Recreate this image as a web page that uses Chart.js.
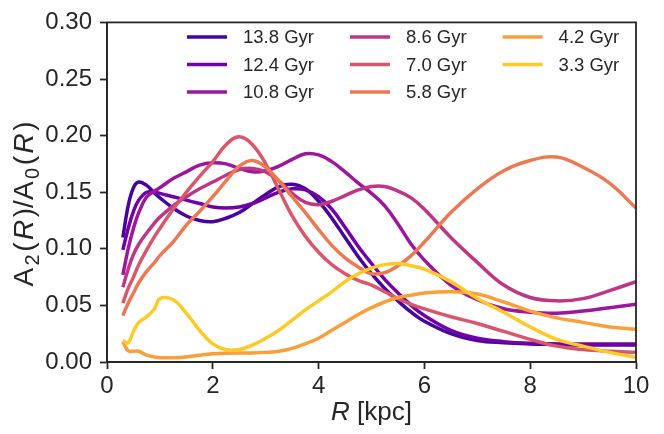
<!DOCTYPE html>
<html><head><meta charset="utf-8">
<script src="https://cdn.jsdelivr.net/npm/chart.js@4.4.0/dist/chart.umd.min.js"></script>
<style>html,body{margin:0;padding:0;background:#fff;}#wrap{width:664px;height:434px;}</style>
</head><body><div id="wrap"><canvas id="c" width="664" height="434"></canvas></div>
<script>
// ---- data ----
const R = [0.3,0.4,0.5,0.6,0.75,0.9,1.0,1.25,1.5,1.75,2.0,2.25,2.5,2.75,3.0,3.25,3.5,3.75,4.0,4.25,4.5,4.75,5.0,5.25,5.5,5.75,6.0,6.5,7.0,7.5,8.0,8.5,9.0,9.5,10];
const seriesLabels = ['13.8 Gyr','12.4 Gyr','10.8 Gyr','8.6 Gyr','7.0 Gyr','5.8 Gyr','4.2 Gyr','3.3 Gyr'];
const seriesColors = ['#46039f','#7201a8','#9c179e','#bd3786','#d8576b','#ed7953','#fb9f3a','#fdca26'];
const a138 = [0.110,0.138,0.154,0.159,0.156,0.149,0.145,0.136,0.129,0.125,0.124,0.127,0.132,0.140,0.148,0.155,0.157,0.153,0.142,0.127,0.110,0.093,0.078,0.065,0.054,0.044,0.036,0.025,0.019,0.017,0.016,0.0155,0.015,0.015,0.015];
const a124 = [0.099,0.118,0.133,0.143,0.150,0.150,0.149,0.146,0.143,0.140,0.137,0.136,0.137,0.140,0.145,0.150,0.153,0.152,0.146,0.135,0.119,0.102,0.087,0.073,0.061,0.050,0.041,0.028,0.021,0.018,0.0165,0.016,0.016,0.016,0.016];
const a108 = [0.077,0.100,0.118,0.132,0.146,0.151,0.154,0.162,0.168,0.174,0.176,0.175,0.171,0.168,0.169,0.173,0.179,0.184,0.183,0.177,0.168,0.158,0.149,0.138,0.122,0.104,0.090,0.068,0.055,0.047,0.044,0.043,0.045,0.048,0.051];
const a86  = [0.066,0.082,0.095,0.104,0.114,0.123,0.128,0.138,0.146,0.153,0.159,0.165,0.170,0.171,0.168,0.160,0.149,0.141,0.139,0.142,0.147,0.152,0.155,0.155,0.151,0.145,0.135,0.110,0.088,0.068,0.057,0.054,0.056,0.063,0.071];
const a70  = [0.052,0.065,0.075,0.086,0.099,0.111,0.118,0.135,0.150,0.164,0.177,0.192,0.199,0.192,0.175,0.152,0.129,0.111,0.097,0.086,0.078,0.072,0.068,0.062,0.056,0.051,0.047,0.040,0.034,0.027,0.020,0.014,0.011,0.0095,0.0086];
const a58  = [0.041,0.052,0.061,0.070,0.080,0.088,0.094,0.106,0.121,0.133,0.146,0.160,0.173,0.178,0.172,0.160,0.146,0.132,0.117,0.103,0.092,0.084,0.078,0.079,0.085,0.094,0.106,0.132,0.153,0.169,0.178,0.181,0.172,0.158,0.136];
const a42  = [0.018,0.010,0.0095,0.0095,0.006,0.0045,0.0038,0.0038,0.0045,0.006,0.0072,0.0078,0.008,0.008,0.0085,0.0095,0.012,0.016,0.021,0.028,0.035,0.042,0.048,0.053,0.057,0.059,0.061,0.062,0.060,0.053,0.045,0.039,0.035,0.031,0.029];
const a33  = [0.019,0.017,0.027,0.035,0.040,0.047,0.056,0.055,0.043,0.028,0.016,0.011,0.011,0.015,0.021,0.028,0.037,0.046,0.054,0.062,0.071,0.078,0.083,0.086,0.087,0.085,0.082,0.071,0.056,0.044,0.031,0.020,0.014,0.0085,0.004];
const seriesValues = [a138,a124,a108,a86,a70,a58,a42,a33];
const xTicks = [0,2,4,6,8,10];
const yTicks = [0,0.05,0.10,0.15,0.20,0.25,0.30];

const FAM = '"Liberation Sans", Arial, sans-serif';
const INK = '#262626';

const datasets = seriesValues.map((vals,i)=>({
  label: seriesLabels[i],
  data: vals.map((v,j)=>({x:R[j], y:v})),
  borderColor: seriesColors[i],
  backgroundColor: seriesColors[i],
  borderWidth: 3.5,
  pointRadius: 0,
  fill: false,
  tension: 0.4,
  order: seriesValues.length - 1 - i
}));

function drawSegs(ctx, segs, size, cx, cy, gap){
  gap = gap || 0;
  const fontFor = s => (s.it ? 'italic ' : '') + (s.sub ? Math.round(size*0.7) : size) + 'px ' + FAM;
  let total = 0;
  segs.forEach(s=>{ ctx.font = fontFor(s); s.w = ctx.measureText(s.t).width; total += s.w; });
  total += gap*(segs.length-1);
  let x = cx - total/2;
  ctx.textBaseline = 'alphabetic';
  ctx.textAlign = 'left';
  segs.forEach(s=>{
    ctx.font = fontFor(s);
    ctx.fillText(s.t, x, cy + (s.sub ? size*0.22 : 0));
    x += s.w + gap;
  });
}

const decor = {
  id: 'decor',
  afterDraw(chart){
    const ctx = chart.ctx, a = chart.chartArea;
    ctx.save();
    ctx.strokeStyle = INK; ctx.lineWidth = 1.8;
    ctx.strokeRect(a.left, a.top, a.right - a.left, a.bottom - a.top);
    ctx.fillStyle = INK;
    drawSegs(ctx, [{t:'R',it:true},{t:' [kpc]'}], 26, (a.left+a.right)/2, 420, 0);
    ctx.save();
    ctx.translate(33, 204);
    ctx.rotate(-Math.PI/2);
    drawSegs(ctx, [{t:'A'},{t:'2',sub:true},{t:'('},{t:'R',it:true},{t:')/A'},{t:'0',sub:true},{t:'('},{t:'R',it:true},{t:')'}], 28, 0, 0, 2.5);
    ctx.restore();
    const cols = [[0,1,2],[3,4,5],[6,7]];
    const fs = 18.5;
    ctx.font = fs + 'px ' + FAM;
    ctx.textBaseline = 'middle'; ctx.textAlign = 'left';
    let x0 = a.left + 80;
    const rowY = [37, 64.5, 92];
    cols.forEach(col=>{
      let maxW = 0;
      col.forEach((k,r)=>{
        const y = rowY[r];
        ctx.strokeStyle = seriesColors[k]; ctx.lineWidth = 3.5;
        ctx.beginPath(); ctx.moveTo(x0, y); ctx.lineTo(x0+40, y); ctx.stroke();
        ctx.fillStyle = INK;
        ctx.fillText(seriesLabels[k], x0+56, y+1);
        maxW = Math.max(maxW, ctx.measureText(seriesLabels[k]).width);
      });
      x0 += 56 + maxW + 36;
    });
    ctx.restore();
  }
};

new Chart(document.getElementById('c'), {
  type: 'line',
  data: { datasets },
  options: {
    responsive: false,
    animation: false,
    devicePixelRatio: 1,
    layout: { padding: { left: 0, right: 28, top: 15, bottom: 0 } },
    plugins: { legend: { display: false }, tooltip: { enabled: false } },
    scales: {
      x: {
        type: 'linear', min: 0, max: 10,
        afterBuildTicks: s => { s.ticks = xTicks.map(v=>({value:v})); },
        afterFit: s => { s.height = 72; },
        ticks: { font: { size: 24, family: FAM }, color: INK, padding: 3, maxRotation: 0, callback: v => String(v) },
        grid: { drawOnChartArea: false, drawTicks: true, tickLength: 7, tickWidth: 1.8, tickColor: INK },
        border: { display: true, color: INK, width: 1.8 }
      },
      y: {
        min: 0, max: 0.3,
        afterBuildTicks: s => { s.ticks = yTicks.map(v=>({value:v})); },
        afterFit: s => { s.width = 107; },
        ticks: { font: { size: 24, family: FAM }, color: INK, padding: 8, callback: v => Number(v).toFixed(2) },
        grid: { drawOnChartArea: false, drawTicks: true, tickLength: 7, tickWidth: 1.8, tickColor: INK },
        border: { display: true, color: INK, width: 1.8 }
      }
    }
  },
  plugins: [decor]
});
</script></body></html>
